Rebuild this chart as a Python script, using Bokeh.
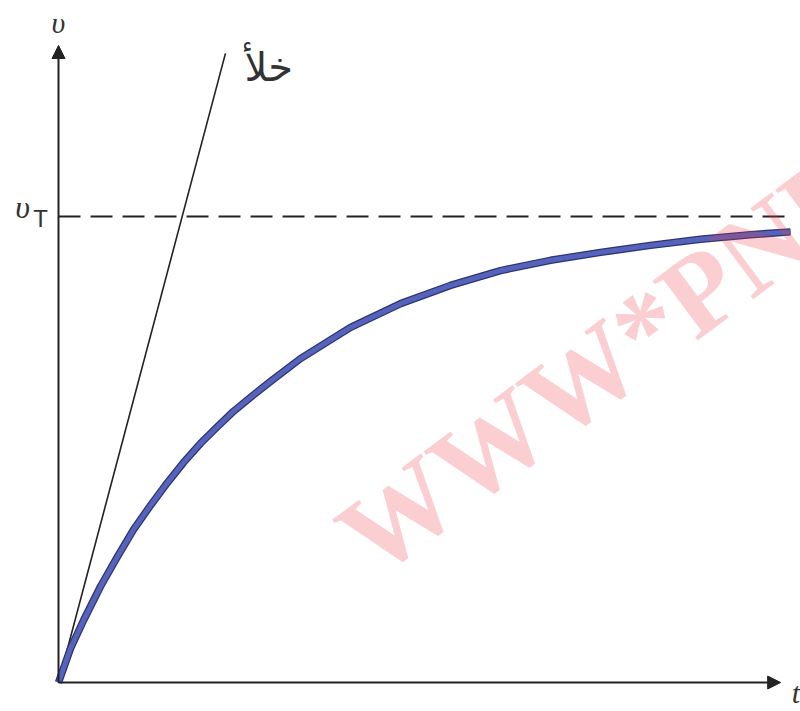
from bokeh.plotting import figure
from bokeh.models import Range1d, Label, Arrow, NormalHead
from bokeh.embed import file_html
from bokeh.resources import INLINE

# ---- data (t in arbitrary units, v relative to terminal velocity v_T = 1) ----
t_curve = [0.0, 0.069, 0.167, 0.347, 0.583, 0.819, 1.042, 1.278, 1.514, 1.736,
           1.972, 2.208, 2.431, 2.667, 2.944, 3.361, 4.056, 4.75, 5.444, 6.139,
           6.833, 7.528, 8.222, 8.917, 9.611, 10.167]
v_curve = [0.0, 0.030, 0.073, 0.133, 0.206, 0.270, 0.328, 0.380, 0.429, 0.472,
           0.513, 0.549, 0.582, 0.612, 0.646, 0.695, 0.762, 0.813, 0.852, 0.884,
           0.906, 0.923, 0.938, 0.951, 0.961, 0.967]
t_vacuum = [0.0, 2.319]
v_vacuum = [0.0, 1.350]
v_terminal = 1.0
t_dash = [0.0, 10.1]
t_axis_max = 10.03
v_axis_max = 1.367

label_v = "υ"
label_vt_main = "υ"
label_vt_sub = "T"
label_t = "t"
label_vacuum = "خلأ"
watermark = "WWW*PNU"

p = figure(width=800, height=711, output_backend="svg", toolbar_location=None,
           x_range=Range1d(-0.8056, 10.3056), y_range=Range1d(-0.0622, 1.4635),
           min_border=0)
p.axis.visible = False
p.grid.visible = False
p.outline_line_color = None
p.background_fill_color = "white"

# axes with arrows
ink = "#222222"
p.add_layout(Arrow(end=NormalHead(size=13, fill_color=ink, line_color=ink),
                   x_start=0, y_start=0, x_end=0, y_end=v_axis_max,
                   line_width=2, line_color=ink))
p.add_layout(Arrow(end=NormalHead(size=13, fill_color=ink, line_color=ink),
                   x_start=0, y_start=0, x_end=t_axis_max, y_end=0,
                   line_width=2, line_color=ink))

# terminal velocity dashed line
p.line(t_dash, [v_terminal, v_terminal], line_color=ink, line_width=2.2,
       line_dash="22 10")

# vacuum free-fall line
p.line(t_vacuum, v_vacuum, line_color=ink, line_width=1.6)

# velocity curve with drag
p.line(t_curve, v_curve, line_color="#2e3470", line_width=7.5, line_join="round")
p.line(t_curve, v_curve, line_color="#5563bb", line_width=5, line_join="round")

# labels
txt = "#333333"
p.add_layout(Label(x=0.0, y=1.416, text=label_v, text_font="Liberation Serif",
                   text_font_style="italic", text_font_size="30px",
                   text_align="center", text_baseline="middle", text_color=txt))
p.add_layout(Label(x=-0.5, y=1.021, text=label_vt_main, text_font="Liberation Serif",
                   text_font_style="italic", text_font_size="32px",
                   text_align="center", text_baseline="middle", text_color=txt))
p.add_layout(Label(x=-0.25, y=0.995, text=label_vt_sub, text_font="Liberation Sans",
                   text_font_size="24px",
                   text_align="center", text_baseline="middle", text_color=txt))
p.add_layout(Label(x=10.3, y=-0.021, text=label_t, text_font="Liberation Serif",
                   text_font_style="italic", text_font_size="30px",
                   text_align="right", text_baseline="middle", text_color=txt))
p.add_layout(Label(x=2.92, y=1.32, text=label_vacuum, text_font="DejaVu Sans",
                   text_font_size="40px",
                   text_align="center", text_baseline="middle", text_color=txt))

# watermark
p.add_layout(Label(x=352, y=162, x_units="screen", y_units="screen", text=watermark,
                   text_font="Liberation Serif", text_font_style="bold",
                   text_font_size="114px", angle=0.64, text_align="left",
                   text_baseline="alphabetic", text_color="#f03c46", text_alpha=0.25))

open("out.html", "w").write(file_html(p, INLINE))
